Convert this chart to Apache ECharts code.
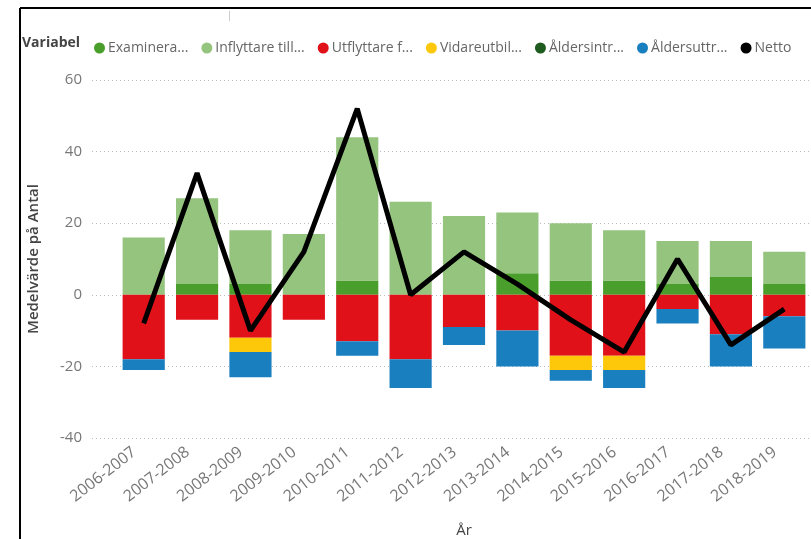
<!DOCTYPE html>
<html>
<head>
<meta charset="utf-8">
<script src="https://cdn.jsdelivr.net/npm/echarts@6/dist/echarts.min.js"></script>
<style>
  html, body { margin: 0; padding: 0; background: #fff; }
  #chart { width: 811px; height: 539px; }
</style>
</head>
<body>
<div id="chart"></div>
<script>
// år (kategorier)
var years = ["2006-2007", "2007-2008", "2008-2009", "2009-2010", "2010-2011", "2011-2012", "2012-2013",
  "2013-2014", "2014-2015", "2015-2016", "2016-2017", "2017-2018", "2018-2019"];
// värden per variabel
var examinera = [0, 3, 3, 0, 4, 0, 0, 6, 4, 4, 3, 5, 3];
var inflyttare = [16, 24, 15, 17, 40, 26, 22, 17, 16, 14, 12, 10, 9];
var utflyttare = [-18, -7, -12, -7, -13, -18, -9, -10, -17, -17, -4, -11, -6];
var vidareutbil = [0, 0, -4, 0, 0, 0, 0, 0, -4, -4, 0, 0, 0];
var aldersintr = [0, 0, 0, 0, 0, 0, 0, 0, 0, 0, 0, 0, 0];
var aldersuttr = [-3, 0, -7, 0, -4, -8, -5, -10, -3, -5, -4, -9, -9];
var netto = [-8, 34, -10, 12, 52, 0, 12, 3, -7, -16, 10, -14, -4];
var yTicks = { min: -40, max: 60, interval: 20 };

var font = "Open Sans";
var myChart = echarts.init(document.getElementById("chart"));

function barSeries(name, data, color) {
  return {
    name: name,
    type: "bar",
    stack: "total",
    data: data,
    barCategoryGap: "21%",
    itemStyle: { color: color },
    emphasis: { disabled: true }
  };
}

var option = {
  animation: false,
  textStyle: { fontFamily: font },
  legend: {
    left: 89,
    top: 36,
    icon: "circle",
    itemWidth: 11,
    itemHeight: 11,
    itemGap: 13,
    textStyle: { color: "#666", fontSize: 14, fontFamily: font, padding: [0, 0, 0, -2] },
    data: ["Examinera...", "Inflyttare till...", "Utflyttare f...", "Vidareutbil...", "Åldersintr...", "Åldersuttr...", "Netto"]
  },
  grid: [
    { left: 117, right: 0, top: 80, bottom: 101, outerBoundsMode: "none" },
    { left: 92, right: 0, top: 80, bottom: 101, outerBoundsMode: "none" }
  ],
  xAxis: [
    {
      type: "category",
      data: years,
      gridIndex: 0,
      axisLine: { show: false },
      axisTick: { show: false },
      axisLabel: { rotate: 38, margin: 5, padding: [0, 12, 0, 0], color: "#777", fontSize: 16, fontFamily: font },
      name: "År",
      nameLocation: "middle",
      nameGap: 85,
      nameTextStyle: { color: "#444", fontSize: 15, fontFamily: font }
    },
    { type: "value", gridIndex: 1, show: false }
  ],
  yAxis: [
    {
      type: "value",
      gridIndex: 0,
      min: yTicks.min,
      max: yTicks.max,
      interval: yTicks.interval,
      axisLabel: { show: false },
      splitLine: { show: false },
      axisLine: { show: false },
      axisTick: { show: false }
    },
    {
      type: "value",
      gridIndex: 1,
      min: yTicks.min,
      max: yTicks.max,
      interval: yTicks.interval,
      axisLine: { show: false },
      axisTick: { show: false },
      axisLabel: { color: "#777", fontSize: 15, margin: 10, fontFamily: font },
      splitLine: { show: true, lineStyle: { color: "#bbb", type: [1, 3], width: 1 } },
      name: "Medelvärde på Antal",
      nameLocation: "middle",
      nameGap: 51,
      nameRotate: 90,
      nameTextStyle: { color: "#444", fontSize: 15, fontWeight: 600, fontFamily: font }
    }
  ],
  graphic: [
    { type: "text", left: 22, top: 36, style: { text: "Variabel", fill: "#444", font: "bold 14px " + font } },
    { type: "line", shape: { x1: 20, y1: 8, x2: 811, y2: 8 }, style: { stroke: "#000", lineWidth: 2 } },
    { type: "line", shape: { x1: 20, y1: 8, x2: 20, y2: 539 }, style: { stroke: "#000", lineWidth: 2 } },
    { type: "line", shape: { x1: 229.5, y1: 11, x2: 229.5, y2: 21 }, style: { stroke: "#ccc", lineWidth: 1 } }
  ],
  series: [
    barSeries("Examinera...", examinera, "#4a9e2c"),
    barSeries("Inflyttare till...", inflyttare, "#95c47f"),
    barSeries("Utflyttare f...", utflyttare, "#e1111a"),
    barSeries("Vidareutbil...", vidareutbil, "#fdc80a"),
    barSeries("Åldersintr...", aldersintr, "#1e5b1e"),
    barSeries("Åldersuttr...", aldersuttr, "#1a7fbf"),
    {
      name: "Netto",
      type: "line",
      data: netto,
      symbol: "none",
      itemStyle: { color: "#000" },
      lineStyle: { color: "#000", width: 5 },
      z: 5
    }
  ]
};

myChart.setOption(option, true);
window.addEventListener("resize", () => {
  myChart.resize();
});
</script>
</body>
</html>
